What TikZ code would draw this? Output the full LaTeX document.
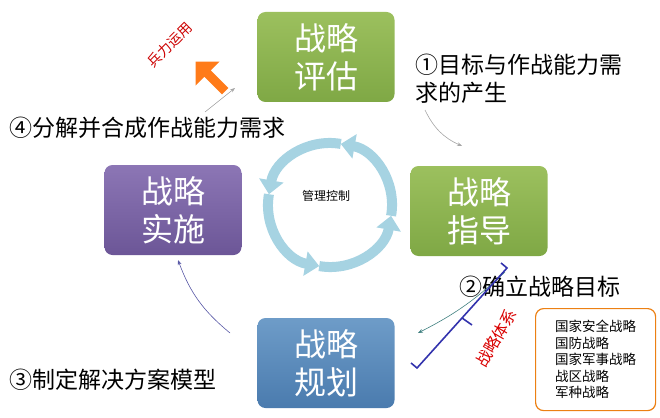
\documentclass[tikz,border=0pt]{standalone}
\usepackage{fontspec}
\setmainfont{Noto Sans CJK SC}
\usetikzlibrary{arrows.meta,shapes.arrows,calc}
\definecolor{gtop}{HTML}{9CC05E}\definecolor{gbot}{HTML}{7FA845}
\definecolor{btop}{HTML}{6E9CC8}\definecolor{bbot}{HTML}{4A7BAE}
\definecolor{ptop}{HTML}{8C76B5}\definecolor{pbot}{HTML}{6C5697}
\definecolor{cyccol}{HTML}{A6D3E2}
\begin{document}
\begin{tikzpicture}[x=1pt,y=-1pt,
  stage/.style={rounded corners=8pt,minimum width=137pt,minimum height=90pt,text=white,align=center,font=\fontsize{32}{38}\selectfont},
  lbl/.style={anchor=west,font=\fontsize{23}{28}\selectfont},
  thin/.style={draw=gray!70,-{Stealth[length=5pt]},line width=0.6pt},
  cyc/.style={draw=cyccol,line width=10pt,-{Triangle[length=14pt,width=24pt]}}]
\useasboundingbox (0,0) rectangle (660,417);
\node[stage,top color=gtop,bottom color=gbot] (eval) at (326,57) {战略\\评估};
\node[stage,top color=gtop,bottom color=gbot] (guide) at (479,211) {战略\\指导};
\node[stage,top color=btop,bottom color=bbot] (plan) at (326,363) {战略\\规划};
\node[stage,top color=ptop,bottom color=pbot] (impl) at (173,210) {战略\\实施};
% cycle arrows
\coordinate (c) at (330,205);
\draw[cyc] ([shift={(100:62)}]c) arc[start angle=100,end angle=10,radius=62];
\draw[cyc] ([shift={(10:62)}]c) arc[start angle=10,end angle=-80,radius=62];
\draw[cyc] ([shift={(-80:62)}]c) arc[start angle=-80,end angle=-170,radius=62];
\draw[cyc] ([shift={(-170:62)}]c) arc[start angle=-170,end angle=-260,radius=62];
\node[font=\fontsize{12}{14}\selectfont] (ctl) at (326,196) {管理控制};
% labels
\node[lbl,align=left] (l1) at (412,79) {①目标与作战能力需\\求的产生};
\node[lbl] (l4) at (6,128) {④分解并合成作战能力需求};
\node[lbl] (l2) at (456,287) {②确立战略目标};
\node[lbl] (l3) at (6,380) {③制定解决方案模型};
% thin arrows
\coordinate (a1s) at (425,110); \coordinate (a1e) at (462,146);
\draw[thin] (a1s) to[bend right=20] (a1e);
\coordinate (a2s) at (505,272); \coordinate (a2e) at (418,333);
\draw[thin,draw=teal!50!gray] (a2s) to[bend left=8] (a2e);
\coordinate (a3s) at (230,333); \coordinate (a3e) at (178,260);
\draw[thin,draw=blue!30!gray] (a3s) to[bend left=15] (a3e);
\coordinate (a4s) at (205,112); \coordinate (a4e) at (235,88);
\draw[thin] (a4s) -- (a4e);
% orange arrow
\node[single arrow,fill=orange!85!red!90,minimum height=42pt,minimum width=34pt,single arrow head extend=6pt,rotate=135,inner sep=2pt] (oa) at (212,78) {};
\node[text=red!80!black,rotate=45,font=\fontsize{14}{16}\selectfont] (force) at (170,45) {兵力运用};
% bracket
\coordinate (b1) at (507,268); \coordinate (b2) at (417,368);
\draw[blue!60!black!80,line width=1.6pt] ($(b1)+(-6,-5)$) -- (b1) -- (b2) -- ($(b2)+(-6,-5)$);
\draw[blue!60!black!80,line width=1.6pt] ($(b1)!0.5!(b2)$) -- ++(10,7);
\node[text=red!85!black,rotate=60,font=\fontsize{16}{18}\selectfont] (sys) at (496,338) {战略体系};
% list box
\node[draw=orange!70!brown,line width=1.2pt,rounded corners=8pt,minimum width=120pt,minimum height=102pt,align=left,anchor=north west,inner sep=6pt,font=\fontsize{13.5}{16.5}\selectfont] (list) at (535,308) {国家安全战略\\国防战略\\国家军事战略\\战区战略\\军种战略};
\end{tikzpicture}
\end{document}
